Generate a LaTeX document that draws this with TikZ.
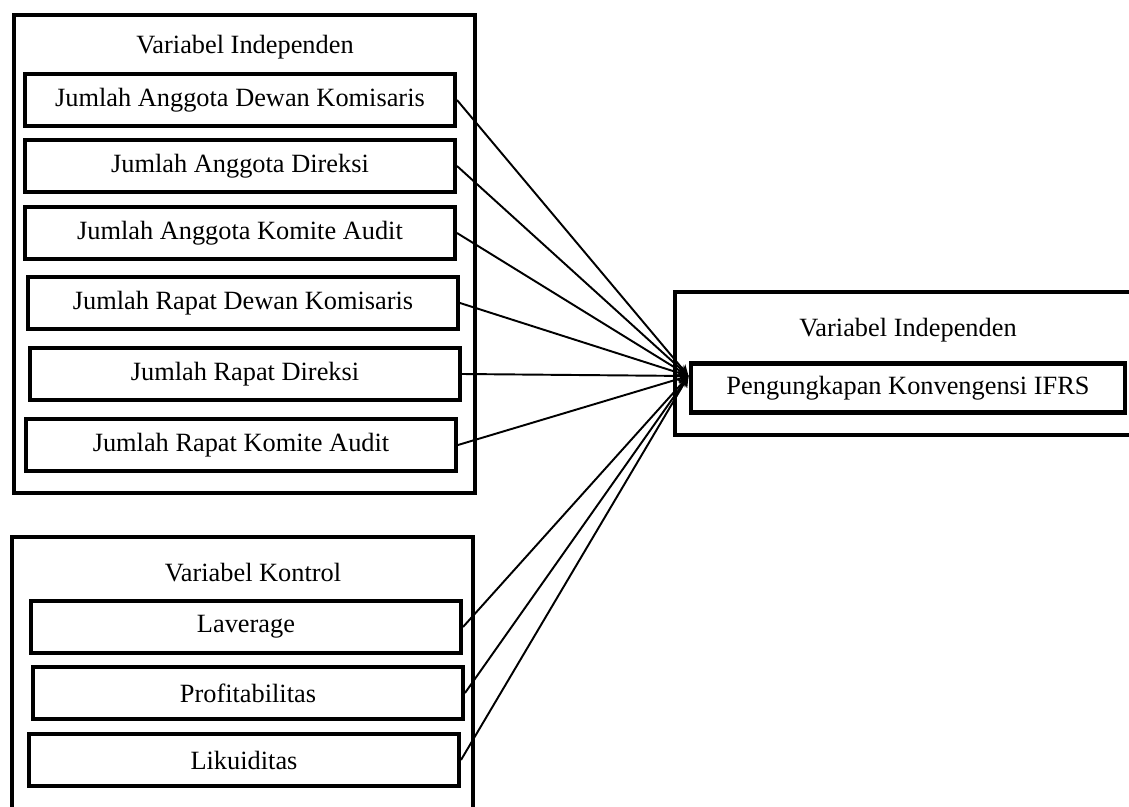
\documentclass[tikz,border=0pt]{standalone}
\usepackage{fontspec}
\setmainfont{Liberation Serif}
\usepackage{tikz}
\usetikzlibrary{positioning,arrows.meta,calc}

\begin{document}
\begin{tikzpicture}[x=0.02cm,y=-0.02cm,font=\fontsize{15}{18}\selectfont]
\tikzset{
 grp/.style={draw,line width=2.3pt},
 var/.style={draw,line width=2.3pt,minimum width=8.6cm,minimum height=1.04cm,inner sep=0},
 ttl/.style={inner sep=0},
 ar/.style={-{Stealth[length=2.2mm,width=2mm]},line width=1.1pt}
}
\useasboundingbox (0,0) rectangle (1129,807);
% independent variables
\draw[grp] (14,15) rectangle (475,493);
\node[ttl] (ti) at (245,47) {Variabel Independen};
\node[var] (b1) at (240,100) {Jumlah Anggota Dewan Komisaris};
\node[var] (b2) at (240,166) {Jumlah Anggota Direksi};
\node[var] (b3) at (240,233) {Jumlah Anggota Komite Audit};
\node[var] (b4) at (243,303) {Jumlah Rapat Dewan Komisaris};
\node[var] (b5) at (245,374) {Jumlah Rapat Direksi};
\node[var] (b6) at (241,445) {Jumlah Rapat Komite Audit};

% control variables
\draw[grp] (12,537) rectangle (473,830);
\node[ttl] (tk) at (253,573) {Variabel Kontrol};
\node[var] (k1) at (246,627) {Laverage};
\node[var] (k2) at (248,693) {Profitabilitas};
\node[var] (k3) at (244,760) {Likuiditas};

% dependent variable
\draw[grp] (675,292) rectangle (1145,435);
\node[ttl] (td) at (908,330) {Variabel Independen};
\node[var,minimum width=8.7cm,minimum height=0.98cm] (ifrs) at (908,388) {Pengungkapan Konvengensi IFRS};
\coordinate (tip) at ($(ifrs.west)+(0,-12)$);

\foreach \n in {b1,b2,b3,b4,b5,b6,k1,k2,k3}
 \draw[ar] (\n.east) -- (tip);
\end{tikzpicture}
\end{document}
